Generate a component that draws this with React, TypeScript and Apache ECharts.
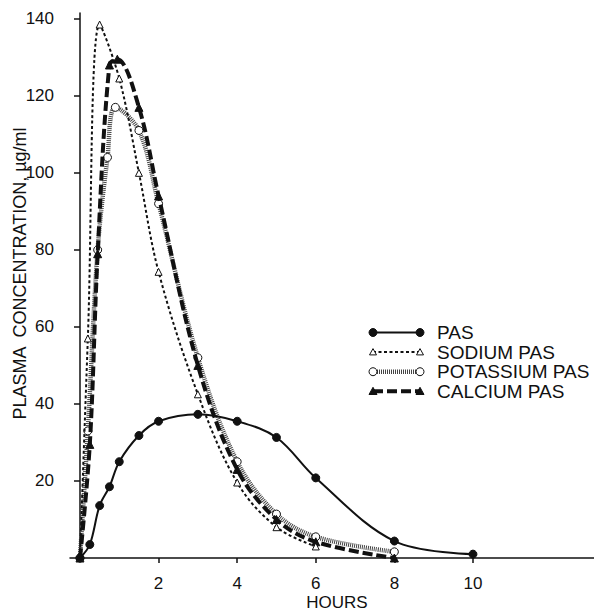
import React, { useEffect, useRef } from "react";
import * as echarts from "echarts";

// ---- data ----
const pasHours = [0, 0.25, 0.5, 0.75, 1, 1.5, 2, 3, 4, 5, 6, 8, 10];
const pasValues = [0, 3.5, 13.6, 18.5, 25, 31.8, 35.5, 37.3, 35.5, 31.3, 20.8, 4.4, 1.0];

const sodiumHours = [0, 0.2, 0.5, 1, 1.5, 2, 3, 4, 5, 6];
const sodiumValues = [0, 57, 138.5, 124.5, 100, 74.3, 42.5, 19.6, 8, 3];

const potassiumHours = [0, 0.2, 0.45, 0.7, 0.9, 1.5, 2, 3, 4, 5, 6, 8];
const potassiumValues = [0, 33, 80, 104, 117, 111, 92, 52, 25, 11.4, 5.5, 1.6];

const calciumHours = [0, 0.25, 0.45, 0.75, 0.95, 1.5, 2, 3, 4, 5, 6, 8];
const calciumValues = [0, 29.5, 79, 128, 129.5, 117, 94, 50, 23, 10, 4.2, 0];

const xTickValues = [2, 4, 6, 8, 10];
const yTickValues = [20, 40, 60, 80, 100, 120, 140];

const seriesNames = ["PAS", "SODIUM PAS", "POTASSIUM PAS", "CALCIUM PAS"];
const xAxisName = "HOURS";
const yAxisName = "PLASMA  CONCENTRATION, µg/ml";

const FONT = "Liberation Sans, Arial, sans-serif";

const pair = (xs: number[], ys: number[]) => xs.map((x, i) => [x, ys[i]]);

type Sty = {
  color: string;
  width: number;
  dash: number[] | null;
  symbol: string;
  fill: string;
  size: number;
};

const styles: Sty[] = [
  { color: "#111", width: 2, dash: null, symbol: "circle", fill: "#111", size: 8 },
  { color: "#111", width: 2, dash: [3, 2.5], symbol: "triangle", fill: "#fff", size: 7 },
  { color: "#444", width: 4.5, dash: [1, 1], symbol: "circle", fill: "#fff", size: 8 },
  { color: "#111", width: 4, dash: [10, 4], symbol: "triangle", fill: "#111", size: 8 },
];

function buildLegend() {
  const children: any[] = [];
  const x0 = 373;
  const x1 = 420;
  seriesNames.forEach((name, i) => {
    const s = styles[i];
    const y = 332.5 + i * 19.6;
    children.push({
      type: "polyline",
      shape: { points: [[x0, y], [x1, y]] },
      style: { stroke: s.color, lineWidth: s.width, lineDash: s.dash || undefined, fill: null },
    });
    [x0, x1].forEach((cx) => {
      if (s.symbol === "circle") {
        children.push({
          type: "circle",
          shape: { cx, cy: y, r: s.size / 2 },
          style: { fill: s.fill, stroke: "#111", lineWidth: 1 },
        });
      } else {
        const h = s.size / 2;
        children.push({
          type: "polygon",
          shape: { points: [[cx, y - h], [cx - h, y + h * 0.8], [cx + h, y + h * 0.8]] },
          style: { fill: s.fill, stroke: "#111", lineWidth: 1 },
        });
      }
    });
    children.push({
      type: "text",
      x: 437,
      y,
      style: {
        text: name,
        font: `19px ${FONT}`,
        fill: "#111",
        verticalAlign: "middle",
        align: "left",
      },
    });
  });
  return children;
}

export default function App() {
  const ref = useRef<HTMLDivElement>(null);
  useEffect(() => {
    const chart = echarts.init(ref.current!, null, { renderer: "svg" });
    const datasets = [
      pair(pasHours, pasValues),
      pair(sodiumHours, sodiumValues),
      pair(potassiumHours, potassiumValues),
      pair(calciumHours, calciumValues),
    ];
    const order = [2, 3, 1, 0];
    const series = order.map((i) => {
      const s = styles[i];
      return {
        type: "line",
        name: seriesNames[i],
        data: datasets[i],
        smooth: 0.35,
        symbol: s.symbol,
        symbolSize: s.size,
        showSymbol: true,
        lineStyle: { color: s.color, width: s.width, type: s.dash || "solid" },
        itemStyle: { color: s.fill, borderColor: "#111", borderWidth: 1 },
        emphasis: { disabled: true },
        z: 2 + order.indexOf(i),
      };
    });
    chart.setOption({
      animation: false,
      backgroundColor: "#fff",
      textStyle: { fontFamily: FONT },
      grid: { left: 70, right: 0, top: 13, bottom: 53, containLabel: false, outerBoundsMode: "none" },
      xAxis: {
        type: "value",
        min: -0.254,
        max: 13.08,
        name: xAxisName,
        nameLocation: "middle",
        nameGap: 36,
        nameMoveOverlap: false,
        nameTextStyle: { fontSize: 17, lineHeight: 16, color: "#111", fontFamily: FONT, padding: [0, 0, 0, 10] },
        axisLine: { show: true, onZero: true, lineStyle: { color: "#111", width: 1.5 } },
        axisTick: { show: true, inside: false, length: 5, customValues: xTickValues, lineStyle: { color: "#111", width: 1.5 } },
        axisLabel: { customValues: xTickValues, margin: 17, fontSize: 17, lineHeight: 16, color: "#111", fontFamily: FONT },
        splitLine: { show: false },
      },
      yAxis: {
        type: "value",
        min: 0,
        max: 141.5,
        name: yAxisName,
        nameLocation: "middle",
        nameRotate: 90,
        nameGap: 41,
        nameMoveOverlap: false,
        nameTextStyle: { fontSize: 18, color: "#111", fontFamily: FONT, padding: [0, 0, 0, 24] },
        axisLine: { show: true, onZero: true, lineStyle: { color: "#111", width: 1.5 } },
        axisTick: { show: true, inside: false, length: 6, customValues: yTickValues, lineStyle: { color: "#111", width: 1.5 } },
        axisLabel: { customValues: yTickValues, margin: 16, fontSize: 17, color: "#111", fontFamily: FONT },
        splitLine: { show: false },
      },
      series,
      graphic: buildLegend(),
    });
    return () => chart.dispose();
  }, []);
  return (
    <div
      ref={ref}
      style={{ position: "fixed", left: 0, top: 0, width: 594, height: 611 }}
    />
  );
}
